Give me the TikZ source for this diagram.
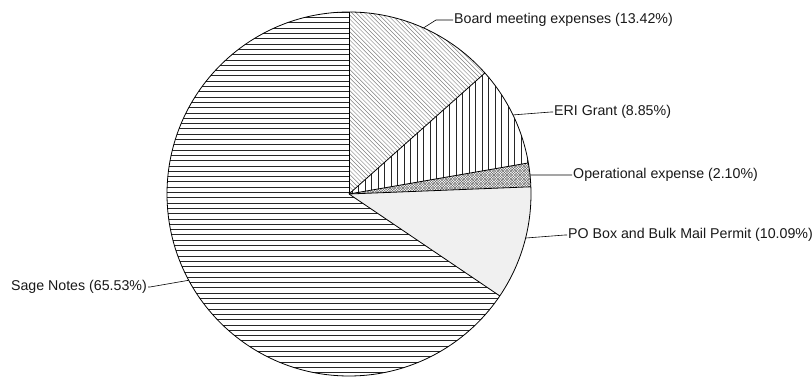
\documentclass[tikz,border=0pt]{standalone}
\usepackage{fontspec}
\setmainfont{Liberation Sans}
\usetikzlibrary{calc}
\tikzset{
  lbl/.style={inner sep=1pt, font=\fontsize{14.2}{16}\selectfont, text=black!90},
  leader/.style={draw=black, line width=0.6pt},
  outline/.style={draw=black, line width=0.8pt, line join=round},
}
\begin{document}
\begin{tikzpicture}[x=1pt,y=1pt]
\useasboundingbox (0,0) rectangle (812,380);
\fill[white] (0,0) rectangle (812,380);
\coordinate (C) at (349,186);
\def\R{182}
% Sage Notes: horizontal lines
\begin{scope}
\clip (C) -- ($(C)+(-34.056:\R)$) arc[start angle=-34.056, end angle=-270, radius=\R] -- cycle;
\foreach \y in {2,7.3,...,380} \draw[line width=0.9pt, black!85] (150,\y) -- (540,\y);
\end{scope}
% Board meeting: diagonal lines
\begin{scope}
\clip (C) -- ($(C)+(90:\R)$) arc[start angle=90, end angle=41.688, radius=\R] -- cycle;
\foreach \x in {150,154.2,...,500} \draw[line width=0.45pt, black!50] (\x,380) -- ++(380,-380);
\end{scope}
% ERI Grant: vertical lines
\begin{scope}
\clip (C) -- ($(C)+(41.688:\R)$) arc[start angle=41.688, end angle=9.828, radius=\R] -- cycle;
\foreach \x in {352,358.5,...,540} \draw[line width=0.6pt, black!85] (\x,180) -- (\x,320);
\end{scope}
% Operational: crosshatch
\begin{scope}
\clip (C) -- ($(C)+(9.828:\R)$) arc[start angle=9.828, end angle=2.268, radius=\R] -- cycle;
\foreach \x in {300,302.6,...,560} {
  \draw[line width=0.4pt, black!60] (\x,180) -- ++(50,50);
  \draw[line width=0.4pt, black!60] (\x,230) -- ++(50,-50);
}
\end{scope}
% PO Box: light fill
\fill[black!6] (C) -- ($(C)+(2.268:\R)$) arc[start angle=2.268, end angle=-34.056, radius=\R] -- cycle;
% outlines
\draw[outline] (C) circle[radius=\R];
\foreach \a in {90,41.688,9.828,2.268,-34.056} \draw[outline] (C) -- ($(C)+(\a:\R)$);
% labels
\node[lbl, anchor=west] (tb) at (453,360) {Board meeting expenses (13.42\%)};
\node[lbl, anchor=west] (te) at (553,268) {ERI Grant (8.85\%)};
\node[lbl, anchor=west] (to) at (572,205) {Operational expense (2.10\%)};
\node[lbl, anchor=west] (tp) at (567,145) {PO Box and Bulk Mail Permit (10.09\%)};
\node[lbl, anchor=east] (ts) at (148,93) {Sage Notes (65.53\%)};
\coordinate (eb) at ($(C)+(65.85:\R)$);
\coordinate (ee) at ($(C)+(25.75:\R)$);
\coordinate (eo) at ($(C)+(6:\R)$);
\coordinate (ep) at ($(C)+(-14:\R)$);
\coordinate (es) at ($(C)+(-151.7:\R)$);
\coordinate (kb) at (436,360);
\coordinate (ke) at (551,268);
\coordinate (kp) at (565,145);
\coordinate (ks) at (150,93);
\draw[leader] (eb) -- (kb) -- (tb.west);
\draw[leader] (ee) -- (ke) -- (te.west);
\draw[leader] (eo) -- (to.west);
\draw[leader] (ep) -- (kp) -- (tp.west);
\draw[leader] (es) -- (ks) -- (ts.east);
\end{tikzpicture}
\end{document}
